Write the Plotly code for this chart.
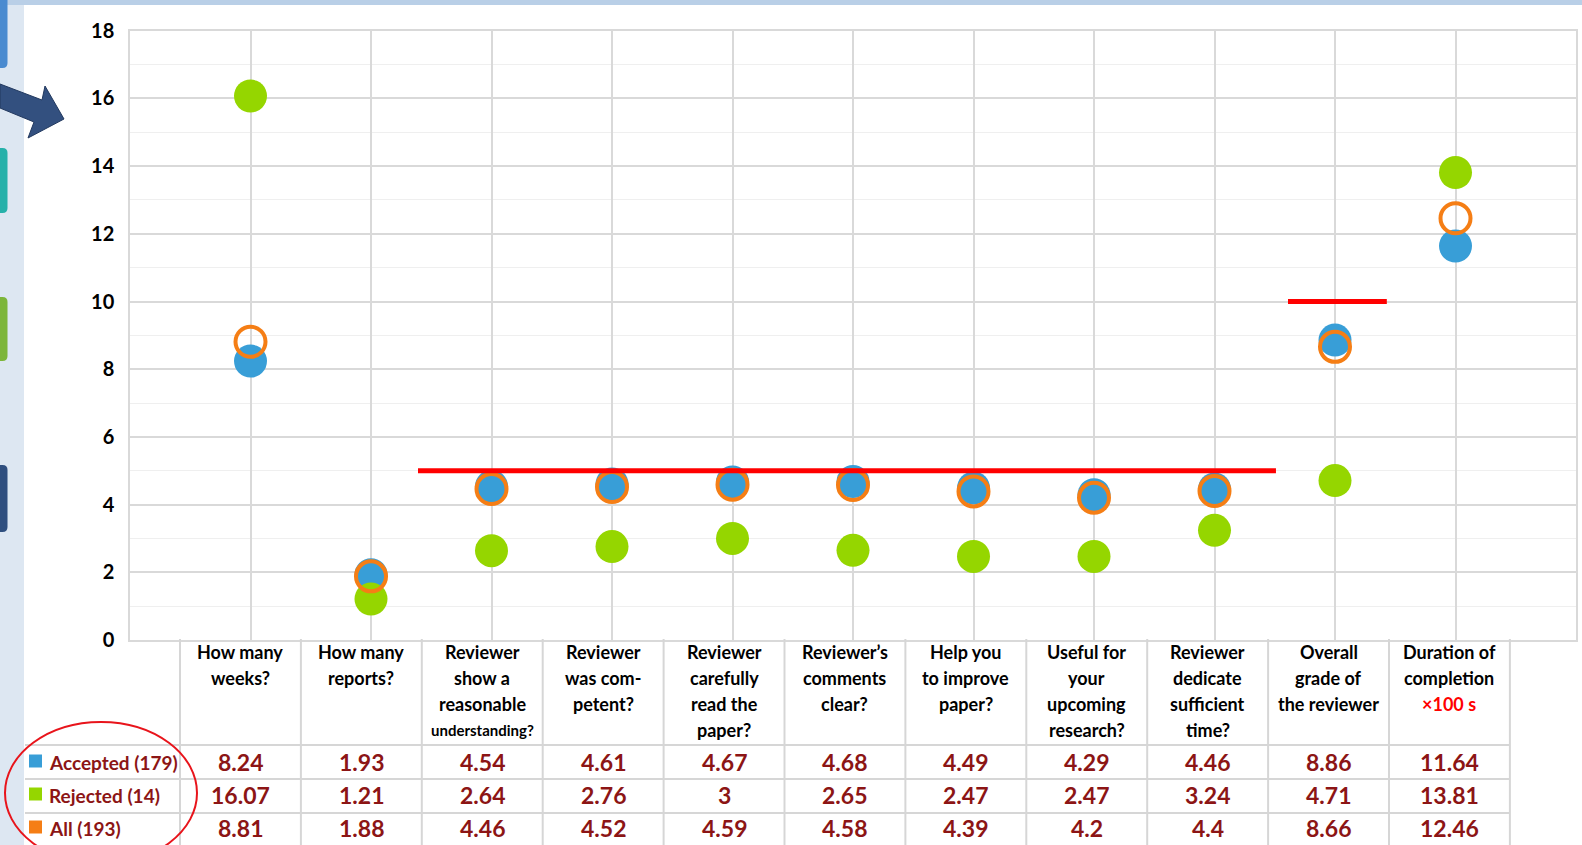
import plotly.graph_objects as go

# ---------------- data ----------------
categories = [
    "How many<br>weeks?",
    "How many<br>reports?",
    "Reviewer<br>show a<br>reasonable<br>understanding?",
    "Reviewer<br>was com-<br>petent?",
    "Reviewer<br>carefully<br>read the<br>paper?",
    "Reviewer’s<br>comments<br>clear?",
    "Help you<br>to improve<br>paper?",
    "Useful for<br>your<br>upcoming<br>research?",
    "Reviewer<br>dedicate<br>sufficient<br>time?",
    "Overall<br>grade of<br>the reviewer",
    "Duration of<br>completion<br>×100 s",
]
series_names = ["Accepted (179)", "Rejected (14)", "All (193)"]
accepted = [8.24, 1.93, 4.54, 4.61, 4.67, 4.68, 4.49, 4.29, 4.46, 8.86, 11.64]
rejected = [16.07, 1.21, 2.64, 2.76, 3, 2.65, 2.47, 2.47, 3.24, 4.71, 13.81]
all_193 = [8.81, 1.88, 4.46, 4.52, 4.59, 4.58, 4.39, 4.2, 4.4, 8.66, 12.46]

# maximum-score reference lines (value, x start, x end in category units)
max_value = [5, 10]
max_x0 = [1.39, 8.61]
max_x1 = [8.51, 9.43]

y_ticks = [0, 2, 4, 6, 8, 10, 12, 14, 16, 18]

# ---------------- styling ----------------
W, H = 1582, 845
BLUE = "#389ED7"
GREEN = "#95D600"
ORANGE = "#F57E15"
DARKRED = "#8C1515"
GRID = "#D9D9D9"
FONT = "Lato"

def px(x):
    return x / W

def py(y):
    return 1 - y / H

PLOT_L, PLOT_R, PLOT_T, PLOT_B = 130, 1576, 30.7, 640
x_vals = list(range(len(categories)))
values = [accepted, rejected, all_193]
colors = [BLUE, GREEN, ORANGE]

fig = go.Figure()

fig.add_trace(go.Scatter(x=x_vals, y=accepted, mode="markers", name=series_names[0],
                         marker=dict(size=33, color=BLUE, line=dict(width=0)), cliponaxis=False))
fig.add_trace(go.Scatter(x=x_vals, y=rejected, mode="markers", name=series_names[1],
                         marker=dict(size=33, color=GREEN, line=dict(width=0)), cliponaxis=False))
fig.add_trace(go.Scatter(x=x_vals, y=all_193, mode="markers", name=series_names[2],
                         marker=dict(size=30, symbol="circle-open", color=ORANGE,
                                     line=dict(width=4, color=ORANGE)), cliponaxis=False))

for v, a, b in zip(max_value, max_x0, max_x1):
    fig.add_trace(go.Scatter(x=[a, b], y=[v, v], mode="lines",
                             line=dict(color="#FF0000", width=5), showlegend=False,
                             hoverinfo="skip"))

shapes = []
annotations = []

# ---- slide decorations ----
shapes.append(dict(type="rect", xref="paper", yref="paper", x0=0, x1=px(24), y0=0, y1=1,
                   fillcolor="#DDE7F2", line=dict(width=0), layer="below"))
shapes.append(dict(type="rect", xref="paper", yref="paper", x0=0, x1=1, y0=py(5), y1=1,
                   fillcolor="#B9CFE7", line=dict(width=0), layer="below"))

def tab(y0, y1, color):
    r = 5
    x1 = 7.5
    path = (f"M {px(-10)},{py(y0)} L {px(x1 - r)},{py(y0)} "
            f"Q {px(x1)},{py(y0)} {px(x1)},{py(y0 + r)} "
            f"L {px(x1)},{py(y1 - r)} Q {px(x1)},{py(y1)} {px(x1 - r)},{py(y1)} "
            f"L {px(-10)},{py(y1)} Z")
    return dict(type="path", xref="paper", yref="paper", path=path,
                fillcolor=color, line=dict(width=0))

shapes.append(tab(-10, 68, "#4A8BD0"))
shapes.append(tab(148, 213, "#26B1AA"))
shapes.append(tab(297, 361, "#7DB63A"))
shapes.append(tab(465, 532, "#2F4F7F"))

arrow_pts = [(0, 84), (42, 100), (45, 86), (64, 119), (28, 138), (34, 122), (0, 108)]
arrow_path = "M " + " L ".join(f"{px(a)},{py(b)}" for a, b in arrow_pts) + " Z"
shapes.append(dict(type="path", xref="paper", yref="paper", path=arrow_path,
                   fillcolor="#33507F", line=dict(color="#22395F", width=1)))

# ---- data table below the plot ----
TBL_L, COL0, COLW = 25, 180, 120.9
n = len(categories)
HDR_T, HDR_B = 639, 745
row_lines = [745, 779, 813]
row_centers = [762, 795, 828]
TCOL = "#D6D6D6"

for k in range(n + 1):
    xx = COL0 + k * COLW
    shapes.append(dict(type="line", xref="paper", yref="paper", x0=px(xx), x1=px(xx),
                       y0=py(HDR_T), y1=py(H + 5), line=dict(color=TCOL, width=2)))
for yy in row_lines:
    shapes.append(dict(type="line", xref="paper", yref="paper", x0=px(TBL_L),
                       x1=px(COL0 + n * COLW), y0=py(yy), y1=py(yy),
                       line=dict(color=TCOL, width=2)))

line_y = [652, 678, 704, 730]
for i, cat in enumerate(categories):
    cx = COL0 + (i + 0.5) * COLW
    for j, ln in enumerate(cat.split("<br>")):
        size = 18
        color = "black"
        if ln.startswith("×"):
            color = "#FF0000"
        if len(ln) > 12:
            size = 15
        annotations.append(dict(x=px(cx), y=py(line_y[j]), xref="paper", yref="paper",
                                text=ln, showarrow=False, xanchor="center", yanchor="middle",
                                font=dict(family=FONT, size=size, color=color, weight="bold")))
    for r, vals in enumerate(values):
        annotations.append(dict(x=px(cx), y=py(row_centers[r]), xref="paper", yref="paper",
                                text=f"{vals[i]:g}", showarrow=False, xanchor="center",
                                yanchor="middle",
                                font=dict(family=FONT, size=23, color=DARKRED, weight="bold")))

for r, name in enumerate(series_names):
    yc = row_centers[r] - 1
    shapes.append(dict(type="rect", xref="paper", yref="paper", x0=px(29), x1=px(42),
                       y0=py(yc + 6.5), y1=py(yc - 6.5), fillcolor=colors[r],
                       line=dict(width=0)))
    annotations.append(dict(x=px(47), y=py(row_centers[r]), xref="paper", yref="paper",
                            text=name, showarrow=False, xanchor="left", yanchor="middle",
                            font=dict(family=FONT, size=19, color=DARKRED, weight="bold")))

# red ellipse around the legend keys
shapes.append(dict(type="circle", xref="paper", yref="paper", x0=px(5), x1=px(197),
                   y0=py(864), y1=py(722), line=dict(color="#E8141B", width=2),
                   fillcolor="rgba(0,0,0,0)"))

fig.update_layout(
    width=W, height=H, autosize=False,
    margin=dict(l=0, r=0, t=0, b=0, pad=0, autoexpand=False),
    paper_bgcolor="white", plot_bgcolor="white",
    showlegend=False,
    shapes=shapes, annotations=annotations,
    xaxis=dict(domain=[px(PLOT_L), px(PLOT_R)], range=[-1, n], tick0=-1, dtick=1,
               showgrid=True, gridcolor=GRID, gridwidth=1.5, showticklabels=False,
               showline=True, mirror=True, linecolor=GRID, linewidth=1.5, zeroline=False,
               ticks="", automargin=False),
    yaxis=dict(domain=[py(PLOT_B), py(PLOT_T)], range=[0, 18], tickvals=y_ticks,
               showgrid=True, gridcolor=GRID, gridwidth=1.5,
               minor=dict(dtick=1, showgrid=True, gridcolor="#EFEFEF", gridwidth=1),
               showline=True, mirror=True, linecolor=GRID, linewidth=1.5, zeroline=False,
               ticks="", ticklabelstandoff=10, automargin=False,
               tickfont=dict(family=FONT, size=20, color="black", weight="bold")),
)

fig.write_html("out.html")
